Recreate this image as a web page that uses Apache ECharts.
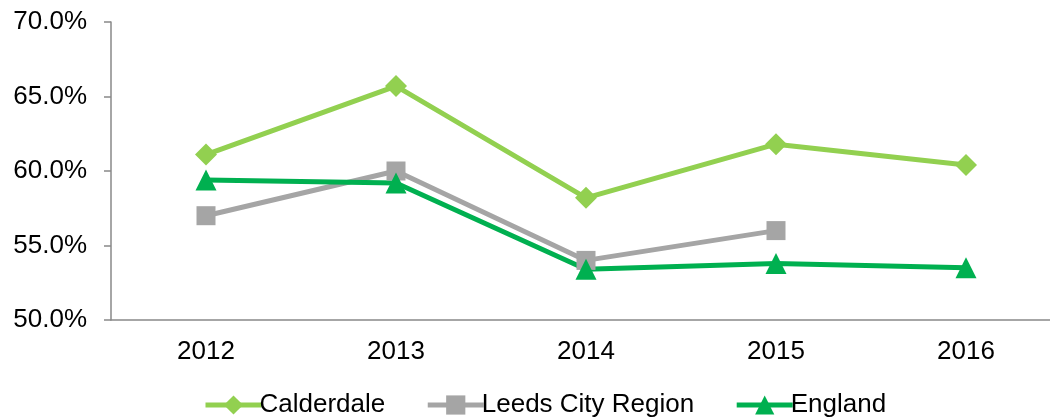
<!DOCTYPE html>
<html>
<head>
<meta charset="utf-8">
<script src="https://cdn.jsdelivr.net/npm/echarts@6/dist/echarts.min.js"></script>
<style>
  html, body { margin: 0; padding: 0; background: #fff; }
  #chart { width: 1050px; height: 419px; }
</style>
</head>
<body>
<div id="chart"></div>
<script>
// years on the x axis
const years = ['2012', '2013', '2014', '2015', '2016'];
// values in percent
const calderdale = [61.1, 65.7, 58.2, 61.8, 60.4];
const leedsCityRegion = [57.0, 60.0, 54.0, 56.0, null];
const england = [59.4, 59.2, 53.4, 53.8, 53.5];

const chart = echarts.init(document.getElementById('chart'));

const font = '"Liberation Sans", Arial, sans-serif';
const axisGrey = '#898989';

function lineSeries(name, data, color, symbol, size) {
    return {
        name: name,
        type: 'line',
        data: data,
        symbol: symbol,
        symbolSize: size,
        connectNulls: false,
        lineStyle: { color: color, width: 5 },
        itemStyle: { color: color },
        emphasis: { disabled: true }
    };
}

chart.setOption({
    animation: false,
    textStyle: { fontFamily: font },
    grid: {
        left: 111,
        width: 950,
        top: 22,
        bottom: 99,
        outerBoundsMode: 'none'
    },
    legend: {
        left: 198,
        top: 387,
        itemWidth: 56,
        itemHeight: 24,
        itemGap: 40,
        lineStyle: { width: 5 },
        textStyle: { fontSize: 26, color: '#000', fontFamily: font, padding: [0, 0, 0, -7] },
        data: ['Calderdale', 'Leeds City Region', 'England']
    },
    xAxis: {
        type: 'category',
        data: years,
        boundaryGap: true,
        axisLine: { lineStyle: { color: axisGrey, width: 1.5 } },
        axisTick: { length: 7, lineStyle: { color: axisGrey, width: 1.5 } },
        axisLabel: { fontSize: 26, color: '#000', margin: 19, fontFamily: font }
    },
    yAxis: {
        type: 'value',
        min: 50,
        max: 70,
        interval: 5,
        splitLine: { show: false },
        axisLine: { show: true, lineStyle: { color: axisGrey, width: 1.5 } },
        axisTick: { show: true, length: 7, lineStyle: { color: axisGrey, width: 1.5 } },
        axisLabel: {
            fontSize: 26,
            color: '#000',
            margin: 24,
            fontFamily: font,
            formatter: function (v) { return v.toFixed(1) + '%'; }
        }
    },
    series: [
        lineSeries('Calderdale', calderdale, '#92D050', 'diamond', 22),
        lineSeries('Leeds City Region', leedsCityRegion, '#A5A5A5', 'rect', 19),
        lineSeries('England', england, '#00B050', 'triangle', 21)
    ]
});
</script>
</body>
</html>
